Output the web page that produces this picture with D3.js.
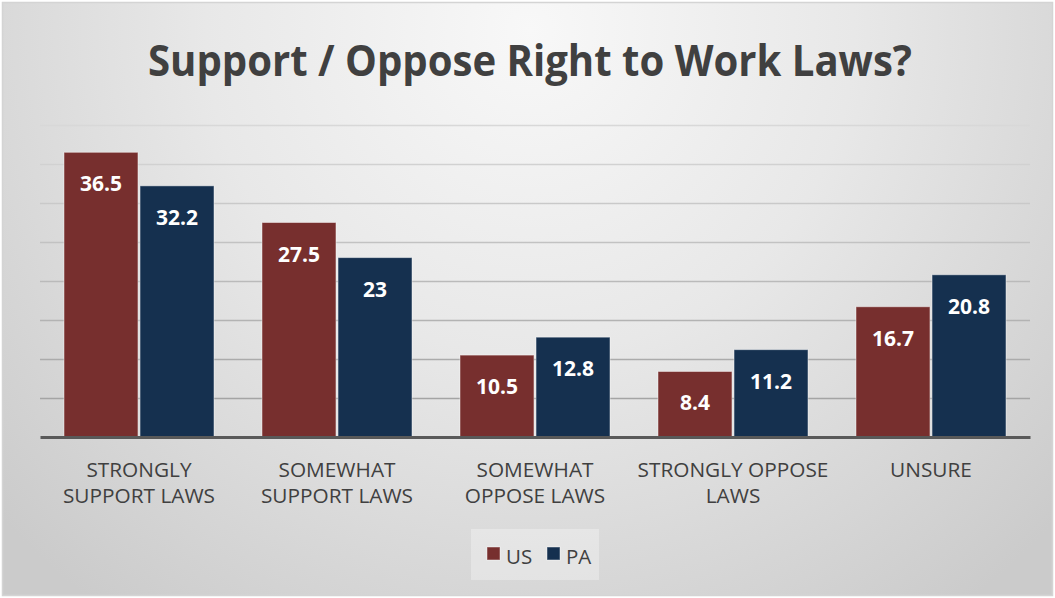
<!DOCTYPE html>
<html>
<head>
<meta charset="utf-8">
<script src="https://cdn.jsdelivr.net/npm/d3@7"></script>
<style>
  html, body { margin: 0; padding: 0; background: #ffffff; }
  svg { display: block; }
  text { font-family: "Open Sans", "DejaVu Sans", sans-serif; }
</style>
</head>
<body>
<svg id="chart" width="1055" height="598"></svg>
<script>
// Survey shares (%) by response
const categories = ["STRONGLY SUPPORT LAWS", "SOMEWHAT SUPPORT LAWS", "SOMEWHAT OPPOSE LAWS", "STRONGLY OPPOSE LAWS", "UNSURE"];
const categoryLines = [["STRONGLY", "SUPPORT LAWS"], ["SOMEWHAT", "SUPPORT LAWS"], ["SOMEWHAT", "OPPOSE LAWS"], ["STRONGLY OPPOSE", "LAWS"], ["UNSURE"]];
const seriesNames = ["US", "PA"];
const usValues = [36.5, 27.5, 10.5, 8.4, 16.7];
const paValues = [32.2, 23, 12.8, 11.2, 20.8];
const yTicks = [5, 10, 15, 20, 25, 30, 35, 40];
const seriesColors = ["#772f2e", "#15304f"];

const W = 1055, H = 598;
const plot = { left: 40, right: 1030, top: 125, bottom: 437 };

const svg = d3.select("#chart");
const defs = svg.append("defs");

// Soft grey panel background
const bg = defs.append("radialGradient")
  .attr("id", "panelBg")
  .attr("gradientUnits", "userSpaceOnUse")
  .attr("cx", 530).attr("cy", 30).attr("r", 720);
bg.append("stop").attr("offset", "0").attr("stop-color", "#f8f8f8");
bg.append("stop").attr("offset", "0.45").attr("stop-color", "#e8e8e8");
bg.append("stop").attr("offset", "1").attr("stop-color", "#cbcbcb");

svg.append("rect")
  .attr("x", 2.5).attr("y", 2.5)
  .attr("width", W - 5).attr("height", H - 5)
  .attr("fill", "url(#panelBg)")
  .attr("stroke", "#d4d4d4")
  .attr("stroke-width", 1.5);

// Title
svg.append("text")
  .attr("x", 530).attr("y", 76)
  .attr("text-anchor", "middle")
  .attr("font-size", 43)
  .attr("font-weight", 700)
  .attr("fill", "#404040")
  .attr("textLength", 764)
  .attr("lengthAdjust", "spacingAndGlyphs")
  .text("Support / Oppose Right to Work Laws?");

// Scales
const x0 = d3.scaleBand().domain(categories).range([plot.left, plot.right]).padding(0);
const x1 = d3.scaleBand().domain(seriesNames)
  .range([24, x0.bandwidth() - 24])
  .paddingInner(0.027).paddingOuter(0);
const y = d3.scaleLinear().domain([0, 40]).range([plot.bottom, plot.top]);

// Gridlines, a little darker toward the bottom
const gridColor = d3.scaleLinear().domain([40, 5]).range(["#d8d8d8", "#a4a4a4"]);
const grid = d3.axisLeft(y).tickValues(yTicks).tickSize(-(plot.right - plot.left)).tickFormat("");
const gg = svg.append("g")
  .attr("transform", `translate(${plot.left},0)`)
  .call(grid);
gg.select(".domain").remove();
gg.selectAll(".tick line")
  .attr("stroke", d => gridColor(d))
  .attr("stroke-width", 1.6);

// Bars
const rows = categories.map((c, i) => ({ cat: c, vals: [usValues[i], paValues[i]] }));
const groups = svg.append("g").selectAll("g")
  .data(rows).join("g")
  .attr("transform", d => `translate(${x0(d.cat)},0)`);

groups.selectAll("rect")
  .data(d => d.vals.map((v, j) => ({ key: seriesNames[j], v, j })))
  .join("rect")
  .attr("x", d => x1(d.key))
  .attr("y", d => y(d.v))
  .attr("width", x1.bandwidth())
  .attr("height", d => y(0) - y(d.v))
  .attr("fill", d => seriesColors[d.j])
  .attr("stroke", "rgba(255,255,255,0.45)")
  .attr("stroke-width", 1);

groups.selectAll("text")
  .data(d => d.vals.map((v, j) => ({ key: seriesNames[j], v, j })))
  .join("text")
  .attr("x", d => x1(d.key) + x1.bandwidth() / 2)
  .attr("y", d => y(d.v) + 39)
  .attr("text-anchor", "middle")
  .attr("font-size", 21)
  .attr("font-weight", 700)
  .attr("fill", "#ffffff")
  .text(d => d.v);

// Category axis line
const xAxis = d3.axisBottom(x0).tickSize(0).tickFormat("");
const xa = svg.append("g")
  .attr("transform", `translate(0,${plot.bottom})`)
  .call(xAxis);
xa.select(".domain").attr("stroke", "#595959").attr("stroke-width", 3);

// Category labels
const catLabels = svg.append("g").selectAll("text")
  .data(categories).join("text")
  .attr("text-anchor", "middle")
  .attr("font-size", 20.8)
  .attr("fill", "#404040")
  .attr("x", d => x0(d) + x0.bandwidth() / 2)
  .attr("y", 477);
catLabels.each(function (d, i) {
  const t = d3.select(this);
  categoryLines[i].forEach((line, k) => {
    t.append("tspan")
      .attr("x", x0(d) + x0.bandwidth() / 2)
      .attr("dy", k === 0 ? 0 : 25.5)
      .text(line);
  });
});

// Legend
const legend = svg.append("g").attr("transform", "translate(471,529)");
legend.append("rect")
  .attr("width", 128).attr("height", 51)
  .attr("fill", "#ffffff").attr("fill-opacity", 0.3);
const items = legend.selectAll("g.item")
  .data(seriesNames).join("g")
  .attr("class", "item")
  .attr("transform", (d, i) => `translate(${16 + i * 60},18)`);
items.append("rect")
  .attr("width", 13).attr("height", 13)
  .attr("fill", (d, i) => seriesColors[i])
  .attr("stroke", "rgba(255,255,255,0.45)")
  .attr("stroke-width", 1);
items.append("text")
  .attr("x", 19).attr("y", 17)
  .attr("font-size", 20.5)
  .attr("fill", "#404040")
  .text(d => d);
</script>
</body>
</html>
